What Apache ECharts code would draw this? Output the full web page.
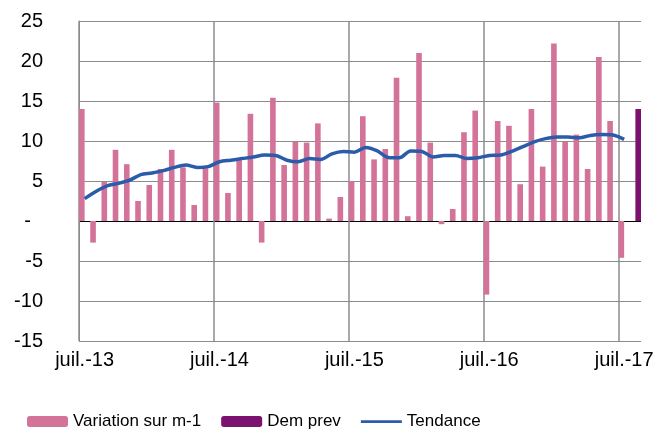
<!DOCTYPE html>
<html>
<head>
<meta charset="utf-8">
<script src="https://cdn.jsdelivr.net/npm/echarts@6/dist/echarts.min.js"></script>
<style>
  html, body { margin: 0; padding: 0; background: #fff; }
  #chart { width: 657px; height: 430px; }
</style>
</head>
<body>
<div id="chart"></div>
<script>
  // mois de juil.-13 a aout-17
  const months = ['janv.', 'févr.', 'mars', 'avr.', 'mai', 'juin', 'juil.', 'août', 'sept.', 'oct.', 'nov.', 'déc.'];
  const categories = [];
  for (let y = 13; y <= 17; y++) {
    for (let m = 0; m < 12; m++) {
      if ((y === 13 && m < 6) || (y === 17 && m > 7)) continue;
      categories.push(months[m] + '-' + y);
    }
  }

  const variation = [
    14.0, -2.7, 4.9, 8.9, 7.1, 2.5, 4.5, 6.5, 8.9, 6.7, 2.0, 6.6,
    14.8, 3.5, 7.6, 13.4, -2.7, 15.4, 7.0, 9.9, 9.8, 12.2, 0.3, 3.0,
    5.0, 13.1, 7.7, 9.0, 17.9, 0.6, 21.0, 9.8, -0.4, 1.5, 11.1, 13.8,
    -9.2, 12.5, 11.9, 4.6, 14.0, 6.8, 22.2, 9.9, 10.8, 6.5, 20.5, 12.5,
    -4.6, null
  ];
  const demPrev = new Array(49).fill(null).concat([14.0]);
  const tendance = [
    2.8, 3.7, 4.4, 4.7, 5.1, 5.8, 6.0, 6.3, 6.7, 7.0, 6.7, 6.8,
    7.4, 7.6, 7.8, 8.0, 8.25, 8.2, 7.6, 7.4, 7.8, 7.7, 8.4, 8.7,
    8.6, 9.2, 8.8, 7.95, 7.9, 8.75, 8.7, 8.0, 8.2, 8.2, 7.8, 7.9,
    8.2, 8.25, 8.7, 9.3, 9.9, 10.3, 10.5, 10.5, 10.4, 10.7, 10.8, 10.75,
    10.2, null
  ];

  const font = 'Arial, "Liberation Sans", sans-serif';
  const gridColor = '#8c8c8c';
  // trait fin pour la legende (les petits carres fixent la boite 41x11)
  const lineIcon = 'path://M0,0h0.01v0.01h-0.01zM41,11h-0.01v-0.01h0.01zM0,4.2h41v2.8h-41z';

  const chart = echarts.init(document.getElementById('chart'));
  chart.setOption({
    animation: false,
    backgroundColor: '#fff',
    grid: { left: 79, right: 16, top: 21, bottom: 89 },
    legend: {
      left: 22,
      top: 408,
      itemWidth: 41,
      itemHeight: 11,
      itemGap: 20,
      textStyle: { fontFamily: font, fontSize: 17, color: '#000' },
      data: [
        'Variation sur m-1',
        'Dem prev',
        { name: 'Tendance', icon: lineIcon }
      ]
    },
    xAxis: {
      type: 'category',
      data: categories,
      boundaryGap: true,
      axisLine: { show: false, onZero: false },
      axisTick: { show: false },
      axisLabel: {
        interval: 11,
        margin: 9,
        fontFamily: font,
        fontSize: 20,
        color: '#000'
      },
      splitLine: {
        show: true,
        interval: 11,
        // pas de trait au bord droit
        lineStyle: { color: [gridColor, gridColor, gridColor, gridColor, gridColor, 'rgba(0,0,0,0)'], width: 1.5 }
      }
    },
    yAxis: {
      type: 'value',
      min: -15,
      max: 25,
      interval: 5,
      axisLine: { show: true, lineStyle: { color: gridColor, width: 1 } },
      axisTick: { show: false },
      axisLabel: {
        margin: 36,
        fontFamily: font,
        fontSize: 20,
        color: '#000',
        formatter: function (v) { return v === 0 ? '{z|-}' : String(v); },
        rich: { z: { fontFamily: font, fontSize: 20, color: '#000', padding: [0, 12, 0, 0] } }
      },
      splitLine: {
        lineStyle: {
          color: [gridColor, gridColor, gridColor, '#000', gridColor, gridColor, gridColor, gridColor, gridColor],
          width: 1
        }
      }
    },
    series: [
      {
        name: 'Variation sur m-1',
        type: 'bar',
        data: variation,
        barGap: '0%',
        barCategoryGap: '0%',
        itemStyle: { color: '#d4739a' }
      },
      {
        name: 'Dem prev',
        type: 'bar',
        data: demPrev,
        itemStyle: { color: '#7b1270' }
      },
      {
        name: 'Tendance',
        type: 'line',
        data: tendance,
        symbol: 'none',
        smooth: 0.3,
        lineStyle: { color: '#2a5caa', width: 3.5 },
        itemStyle: { color: '#2a5caa' },
        z: 5
      }
    ]
  });
</script>
</body>
</html>
